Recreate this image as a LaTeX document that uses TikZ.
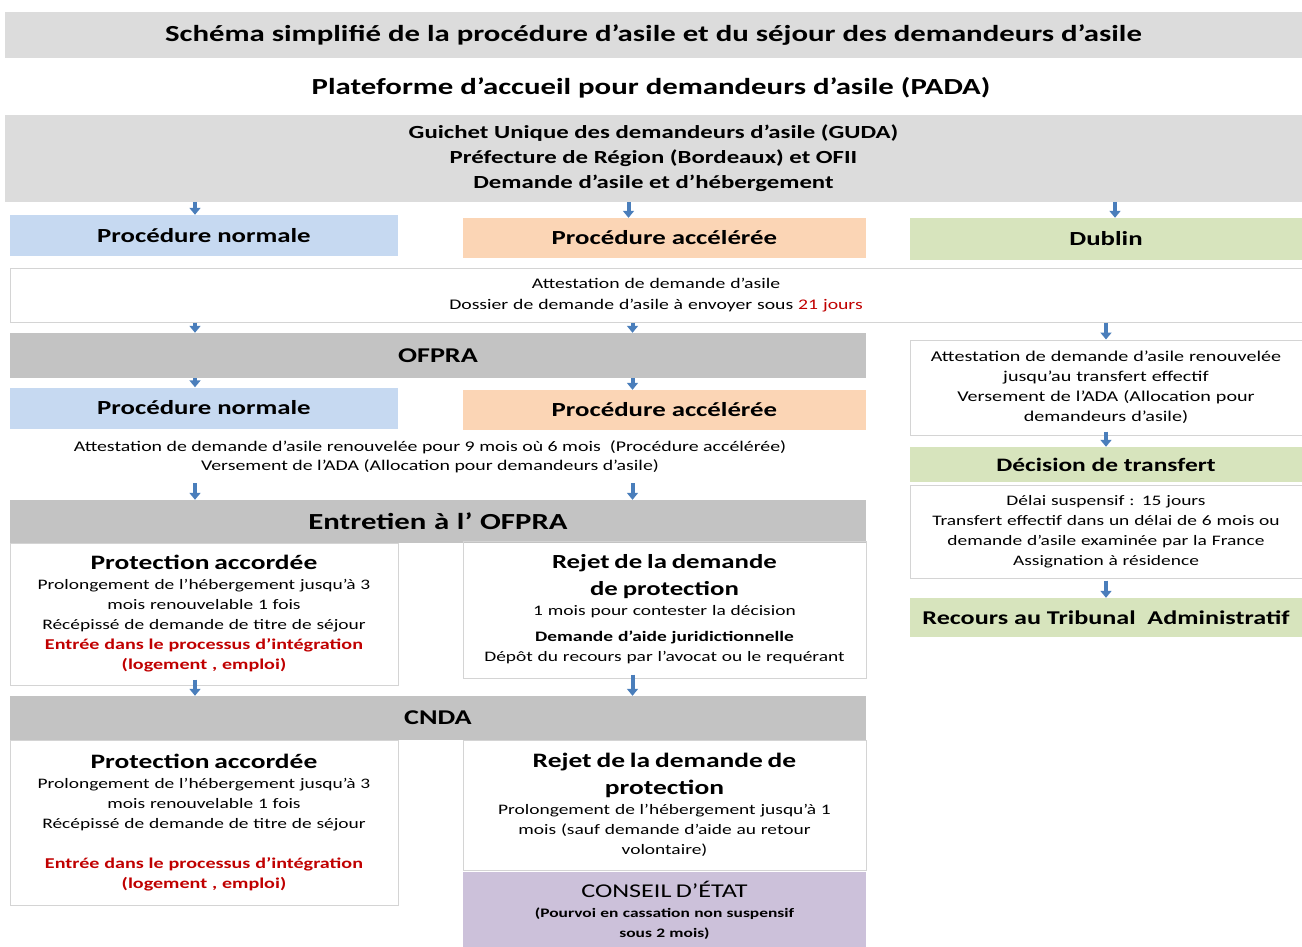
\documentclass[tikz,border=0pt]{standalone}
\usepackage{fontspec}
\setmainfont{Carlito}[FakeStretch=1.34]
\usetikzlibrary{positioning, arrows.meta, calc}

\definecolor{titlegray}{HTML}{DCDCDC}
\definecolor{bargray}{HTML}{C3C3C3}
\definecolor{normalblue}{HTML}{C6D9F1}
\definecolor{accelorange}{HTML}{FBD5B5}
\definecolor{dublingreen}{HTML}{D7E4BD}
\definecolor{conseilpurple}{HTML}{CCC1DA}
\definecolor{boxgray}{HTML}{D4D4D4}
\definecolor{arrowblue}{HTML}{4A7EBB}
\definecolor{alertred}{HTML}{C00000}

\begin{document}
\begin{tikzpicture}[
    x=1pt, y=-1pt,
    bar/.style={rectangle, fill=bargray, inner sep=0pt, text width=840pt, align=center, minimum width=856pt, font=\fontsize{21}{25}\selectfont\bfseries},
    colbox/.style={rectangle, inner sep=0pt, align=center, font=\fontsize{20}{24}\selectfont\bfseries},
    normal/.style={colbox, fill=normalblue, minimum width=388pt, minimum height=41pt},
    accel/.style={colbox, fill=accelorange, minimum width=403pt, minimum height=40pt},
    dublin/.style={colbox, fill=dublingreen, minimum width=392pt},
    textbox/.style={rectangle, draw=boxgray, line width=1pt, inner sep=0pt, align=center, font=\fontsize{14.5}{20}\selectfont},
    arrow/.style={-{Triangle[width=11pt, length=7pt]}, line width=4pt, draw=arrowblue}
]
\useasboundingbox (0,0) rectangle (1302,947);

% Title
\node[rectangle, fill=titlegray, minimum width=1297pt, minimum height=46pt, font=\fontsize{23}{27}\selectfont\bfseries] (titre) at (653.5,35) {Schéma simplifié de la procédure d’asile et du séjour des demandeurs d’asile};

% PADA
\node[font=\fontsize{23}{27}\selectfont\bfseries] (pada) at (651,88) {Plateforme d’accueil pour demandeurs d’asile (PADA)};

% GUDA
\node[rectangle, fill=titlegray, inner sep=0pt, minimum width=1297pt, minimum height=87pt, align=center, font=\fontsize{18.5}{25}\selectfont\bfseries] (guda) at (653.5,158.5) {Guichet Unique des demandeurs d’asile (GUDA)\\Préfecture de Région (Bordeaux) et OFII\\Demande d’asile et d’hébergement};

% Procedures
\node[normal] (normal1) at (204,235.5) {Procédure normale};
\node[accel] (accel1) at (664.5,238) {Procédure accélérée};
\node[dublin, minimum height=42pt] (dublin) at (1106,239) {Dublin};

% Attestation
\node[textbox, minimum width=1292pt, minimum height=54pt, text width=1200pt, font=\fontsize{14.7}{21}\selectfont] (attest) at (656,295) {Attestation de demande d’asile\\Dossier de demande d’asile à envoyer sous \textcolor{alertred}{21 jours}};

% OFPRA
\node[bar, minimum height=45pt] (ofpra) at (438,355.5) {OFPRA};
\node[normal] (normal2) at (204,408) {Procédure normale};
\node[accel] (accel2) at (664.5,410) {Procédure accélérée};

% Attestation renouvelee
\node[align=center, inner sep=0pt, font=\fontsize{14.8}{19}\selectfont] (renouv) at (430,457) {Attestation de demande d’asile renouvelée pour 9 mois où 6 mois~ (Procédure accélérée)\\Versement de l’ADA (Allocation pour demandeurs d’asile)};

% Entretien
\node[bar, minimum height=43pt, font=\fontsize{23}{27}\selectfont\bfseries] (entretien) at (438,521.5) {Entretien à l’ OFPRA};

% Decisions OFPRA
\node[textbox, minimum width=388pt, minimum height=142pt, text width=375pt] (accord1) at (204,614) {{\fontsize{20.5}{25}\selectfont\bfseries Protection accordée\par}Prolongement de l’hébergement jusqu’à 3\\mois renouvelable 1 fois\\Récépissé de demande de titre de séjour\\{\bfseries\fontsize{15}{20}\selectfont\color{alertred}Entrée dans le processus d’intégration\\(logement , emploi)}};
\node[textbox, minimum width=403pt, minimum height=137pt, text width=390pt] (rejet1) at (664.5,609.5) {{\fontsize{20}{27}\selectfont\bfseries Rejet de la demande\\de protection\par}1 mois pour contester la décision\\[6pt]{\bfseries\fontsize{14.5}{19}\selectfont Demande d’aide juridictionnelle}\\Dépôt du recours par l’avocat ou le requérant};

% CNDA
\node[bar, minimum height=44pt] (cnda) at (438,718) {CNDA};

% Decisions CNDA
\node[textbox, minimum width=388pt, minimum height=165pt, text width=375pt] (accord2) at (204,822.5) {{\fontsize{20.5}{25}\selectfont\bfseries Protection accordée\par}Prolongement de l’hébergement jusqu’à 3\\mois renouvelable 1 fois\\Récépissé de demande de titre de séjour\\[20pt]{\bfseries\fontsize{15}{20}\selectfont\color{alertred}Entrée dans le processus d’intégration\\(logement , emploi)}};
\node[textbox, minimum width=403pt, minimum height=130pt, text width=390pt] (rejet2) at (664.5,805) {{\fontsize{20.5}{27}\selectfont\bfseries Rejet de la demande de\\protection\par}Prolongement de l’hébergement jusqu’à 1\\mois (sauf demande d’aide au retour\\volontaire)};

% Conseil d'Etat
\node[rectangle, fill=conseilpurple, inner sep=0pt, minimum width=403pt, minimum height=77pt, text width=390pt, align=center, font=\fontsize{13}{20}\selectfont] (conseil) at (664.5,910) {{\fontsize{19.5}{24}\selectfont CONSEIL D’ÉTAT\par}{\bfseries (Pourvoi en cassation non suspensif\\sous 2 mois)}};

% Dublin column
\node[textbox, minimum width=392pt, minimum height=95pt, text width=380pt, font=\fontsize{15}{20}\selectfont] (attdub) at (1106,387.5) {Attestation de demande d’asile renouvelée\\jusqu’au transfert effectif\\Versement de l’ADA (Allocation pour\\demandeurs d’asile)};
\node[dublin, minimum height=35pt, font=\fontsize{19}{23}\selectfont\bfseries] (transfert) at (1106,464.5) {Décision de transfert};
\node[textbox, minimum width=392pt, minimum height=93pt, text width=380pt, font=\fontsize{14.5}{20}\selectfont] (delai) at (1106,531.5) {Délai suspensif : 15 jours\\Transfert effectif dans un délai de 6 mois ou\\demande d’asile examinée par la France\\Assignation à résidence};
\node[dublin, minimum height=39pt, font=\fontsize{19.5}{23}\selectfont\bfseries] (recours) at (1106,617.5) {Recours au Tribunal~ Administratif};

% Arrows
\draw[arrow] ($(guda.south -| normal1)+(-9,0)$) -- ($(normal1.north)+(-9,0)$);
\draw[arrow] ($(guda.south -| accel1)+(-36,0)$) -- ($(accel1.north)+(-36,0)$);
\draw[arrow] ($(guda.south -| dublin)+(9,0)$) -- ($(dublin.north)+(9,0)$);
\draw[arrow] ($(attest.south -| normal1)+(-9,0)$) -- ($(ofpra.north -| normal1)+(-9,0)$);
\draw[arrow] ($(attest.south -| accel1)+(-32,0)$) -- ($(ofpra.north -| accel1)+(-32,0)$);
\draw[arrow] (attest.south -| attdub) -- (attdub.north);
\draw[arrow] ($(ofpra.south -| normal2)+(-9,0)$) -- ($(normal2.north)+(-9,0)$);
\draw[arrow] ($(ofpra.south -| accel2)+(-32,0)$) -- ($(accel2.north)+(-32,0)$);
\draw[arrow] ($(renouv.south -| normal2)+(-9,10)$) -- ($(entretien.north -| normal2)+(-9,0)$);
\draw[arrow] ($(renouv.south -| accel2)+(-32,10)$) -- ($(entretien.north -| accel2)+(-32,0)$);
\draw[arrow] ($(accord1.south)+(-9,-6)$) -- ($(cnda.north -| accord1)+(-9,0)$);
\draw[arrow] ($(rejet1.south)+(-32,-4)$) -- ($(cnda.north -| rejet1)+(-32,0)$);
\draw[arrow] ($(attdub.south)+(0,-4)$) -- (transfert.north);
\draw[arrow] ($(delai.south)+(0,2)$) -- (recours.north);
\end{tikzpicture}
\end{document}
